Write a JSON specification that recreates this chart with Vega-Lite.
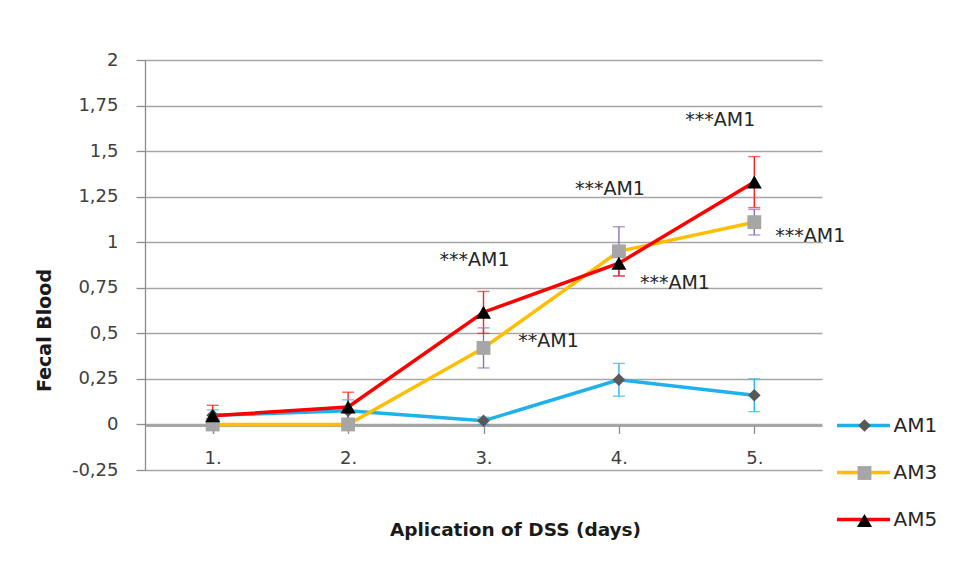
{
  "$schema": "https://vega.github.io/schema/vega-lite/v6.json",
  "width": 677,
  "height": 410,
  "autosize": {"type": "none"},
  "padding": {"left": 145, "top": 60, "right": 138, "bottom": 105},
  "background": "#ffffff",
  "config": {
    "font": "DejaVu Sans",
    "view": {"stroke": null},
    "axis": {"labelFont": "DejaVu Sans", "titleFont": "DejaVu Sans"},
    "legend": {"labelFont": "DejaVu Sans"}
  },
  "datasets": {
    "series": [
      {"day": "1.", "series": "AM1", "value": 0.05, "lo": 0.02, "hi": 0.08},
      {"day": "2.", "series": "AM1", "value": 0.075, "lo": 0.015, "hi": 0.135},
      {"day": "3.", "series": "AM1", "value": 0.02, "lo": 0.0, "hi": 0.04},
      {"day": "4.", "series": "AM1", "value": 0.245, "lo": 0.155, "hi": 0.335},
      {"day": "5.", "series": "AM1", "value": 0.16, "lo": 0.07, "hi": 0.25},
      {"day": "1.", "series": "AM3", "value": 0.0, "lo": 0.0, "hi": 0.0},
      {"day": "2.", "series": "AM3", "value": 0.0, "lo": 0.0, "hi": 0.0},
      {"day": "3.", "series": "AM3", "value": 0.42, "lo": 0.31, "hi": 0.53},
      {"day": "4.", "series": "AM3", "value": 0.95, "lo": 0.815, "hi": 1.085},
      {"day": "5.", "series": "AM3", "value": 1.11, "lo": 1.04, "hi": 1.18},
      {"day": "1.", "series": "AM5", "value": 0.048, "lo": -0.009, "hi": 0.105},
      {"day": "2.", "series": "AM5", "value": 0.096, "lo": 0.015, "hi": 0.177},
      {"day": "3.", "series": "AM5", "value": 0.616, "lo": 0.5, "hi": 0.73},
      {"day": "4.", "series": "AM5", "value": 0.885, "lo": 0.815, "hi": 0.955},
      {"day": "5.", "series": "AM5", "value": 1.33, "lo": 1.19, "hi": 1.47}
    ],
    "notes": [
      {"id": "n5top", "day": "5.", "y": 1.673, "text": "***AM1"},
      {"id": "n4top", "day": "4.", "y": 1.294, "text": "***AM1"},
      {"id": "n3top", "day": "3.", "y": 0.904, "text": "***AM1"},
      {"id": "n3side", "day": "3.", "y": 0.459, "text": "**AM1"},
      {"id": "n4side", "day": "4.", "y": 0.777, "text": "***AM1"},
      {"id": "n5side", "day": "5.", "y": 1.036, "text": "***AM1"}
    ]
  },
  "encoding": {
    "x": {
      "field": "day",
      "type": "ordinal",
      "scale": {"type": "point", "padding": 0.5, "domain": ["1.", "2.", "3.", "4.", "5."]},
      "axis": {
        "title": "Aplication of DSS (days)",
        "titleFontSize": 18.5,
        "titleFontWeight": "bold",
        "titleColor": "#1a1a1a",
        "titleX": 370,
        "titleY": 103.5,
        "titleBaseline": "middle",
        "titleAnchor": null,
        "titleAlign": "center",
        "offset": -44.5,
        "domainColor": "#8c8c8c",
        "domainWidth": 1.3,
        "tickColor": "#8c8c8c",
        "tickWidth": 1.3,
        "tickSize": 8,
        "tickBand": "extent",
        "labelFontSize": 18,
        "labelColor": "#404040",
        "labelPadding": 16,
        "labelAngle": 0,
        "grid": false
      }
    }
  },
  "layer": [
    {
      "data": {"name": "series"},
      "transform": [{"calculate": "datum.series", "as": "ebar"}],
      "mark": {"type": "rule", "strokeWidth": 1.4},
      "encoding": {
        "y": {
          "field": "lo",
          "type": "quantitative",
          "scale": {"domain": [-0.25, 2], "nice": false, "zero": false},
          "axis": {
            "title": "Fecal Blood",
            "titleFontSize": 19,
            "titleFontWeight": "bold",
            "titleColor": "#1a1a1a",
            "titleAngle": -90,
            "titleX": -101,
            "titleY": 270,
            "titleAlign": "center",
            "titleBaseline": "middle",
            "titleAnchor": null,
            "values": [-0.25, 0, 0.25, 0.5, 0.75, 1, 1.25, 1.5, 1.75, 2],
            "labelExpr": "replace(toString(datum.value), '.', ',')",
            "labelFontSize": 18,
            "labelColor": "#404040",
            "labelPadding": 18,
            "tickSize": 9,
            "tickColor": "#8c8c8c",
            "tickWidth": 1.3,
            "domainColor": "#8c8c8c",
            "domainWidth": 1.3,
            "grid": true,
            "gridColor": "#a6a6a6",
            "gridWidth": 1.3
          }
        },
        "y2": {"field": "hi"},
        "color": {
          "field": "ebar",
          "type": "nominal",
          "scale": {"range": ["#2fb5ea", "#8a72b8", "#ff2020"]},
          "legend": null
        }
      }
    },
    {
      "data": {"name": "series"},
      "transform": [{"calculate": "datum.series", "as": "ebar"}],
      "mark": {"type": "tick", "size": 12, "thickness": 1.4},
      "encoding": {
        "y": {"field": "hi", "type": "quantitative"},
        "color": {"field": "ebar", "type": "nominal", "legend": null}
      }
    },
    {
      "data": {"name": "series"},
      "transform": [{"calculate": "datum.series", "as": "ebar"}],
      "mark": {"type": "tick", "size": 12, "thickness": 1.4},
      "encoding": {
        "y": {"field": "lo", "type": "quantitative"},
        "color": {"field": "ebar", "type": "nominal", "legend": null}
      }
    },
    {
      "data": {"name": "series"},
      "mark": {"type": "line", "strokeWidth": 3.5},
      "encoding": {
        "y": {"field": "value", "type": "quantitative"},
        "stroke": {
          "field": "series",
          "type": "nominal",
          "scale": {"range": ["#1eb1ea", "#ffbe00", "#ff0000"]},
          "legend": {
            "title": null,
            "orient": "none",
            "legendX": 706.5,
            "legendY": 353.5,
            "symbolType": "M-2.65,0H2.65",
            "symbolSize": 400,
            "symbolStrokeWidth": 3.5,
            "labelFontSize": 20,
            "labelColor": "#262626",
            "labelOffset": 18,
            "rowPadding": 25,
            "padding": 0,
            "zindex": 0
          }
        }
      }
    },
    {
      "data": {"name": "series"},
      "transform": [{"calculate": "datum.series", "as": "marker"}],
      "mark": {"type": "point", "filled": true, "opacity": 1},
      "encoding": {
        "y": {"field": "value", "type": "quantitative"},
        "shape": {
          "field": "marker",
          "type": "nominal",
          "scale": {"range": ["diamond", "square", "triangle-up"]},
          "legend": {
            "title": null,
            "orient": "none",
            "legendX": 709.5,
            "legendY": 355.5,
            "labelFontSize": 20,
            "labelExpr": "''",
            "rowPadding": 27.5,
            "padding": 0,
            "symbolStrokeWidth": 0,
            "zindex": 1
          }
        },
        "fill": {
          "field": "marker",
          "type": "nominal",
          "scale": {"range": ["#595959", "#a6a6a6", "#000000"]}
        },
        "size": {
          "field": "marker",
          "type": "nominal",
          "scale": {"range": [160, 225, 130]}
        }
      }
    },
    {
      "data": {"name": "notes"},
      "transform": [{"filter": "datum.id === 'n3top' || datum.id === 'n4top'"}],
      "mark": {"type": "text", "fontSize": 19, "color": "#262626", "dx": -9, "align": "center", "baseline": "middle"},
      "encoding": {"y": {"field": "y", "type": "quantitative"}, "text": {"field": "text"}}
    },
    {
      "data": {"name": "notes"},
      "transform": [{"filter": "datum.id === 'n5top'"}],
      "mark": {"type": "text", "fontSize": 19, "color": "#262626", "dx": -34, "align": "center", "baseline": "middle"},
      "encoding": {"y": {"field": "y", "type": "quantitative"}, "text": {"field": "text"}}
    },
    {
      "data": {"name": "notes"},
      "transform": [{"filter": "datum.id === 'n4side' || datum.id === 'n5side'"}],
      "mark": {"type": "text", "fontSize": 19, "color": "#262626", "dx": 56, "align": "center", "baseline": "middle"},
      "encoding": {"y": {"field": "y", "type": "quantitative"}, "text": {"field": "text"}}
    },
    {
      "data": {"name": "notes"},
      "transform": [{"filter": "datum.id === 'n3side'"}],
      "mark": {"type": "text", "fontSize": 19, "color": "#262626", "dx": 65, "align": "center", "baseline": "middle"},
      "encoding": {"y": {"field": "y", "type": "quantitative"}, "text": {"field": "text"}}
    }
  ]
}
